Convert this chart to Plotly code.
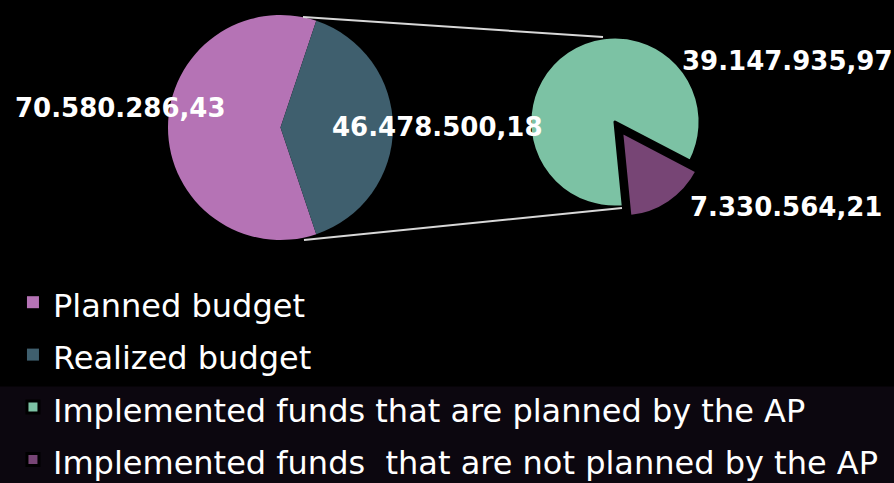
import plotly.graph_objects as go

# budget split (left pie) and breakdown of realized budget (right pie)
budget_labels = ['Planned budget', 'Realized budget']
budget_values = [70580286.43, 46478500.18]
budget_colors = ['#b573b5', '#3f5f6e']

funds_labels = ['Implemented funds that are planned by the AP',
                'Implemented funds  that are not planned by the AP']
funds_values = [39147935.97, 7330564.21]
funds_colors = ['#7cc2a4', '#774575']


def eu_fmt(v):
    """70580286.43 -> 70.580.286,43"""
    return f'{v:,.2f}'.replace(',', ' ').replace('.', ',').replace(' ', '.')


def legend_text(label):
    # smaller text inside a taller legend row
    return f'<span style="font-size:32px">{label}</span>'


fig = go.Figure()

share_realized = budget_values[1] / sum(budget_values) * 360
fig.add_trace(go.Pie(
    labels=[legend_text(l) for l in budget_labels],
    values=budget_values,
    marker=dict(colors=budget_colors, line=dict(width=0)),
    sort=False,
    direction='clockwise',
    rotation=90 + share_realized / 2,
    textinfo='none',
    hoverinfo='label+value',
    domain=dict(x=[0.1879, 0.4396], y=[0.503, 0.969]),
))

share_not_planned = funds_values[1] / sum(funds_values) * 360
fig.add_trace(go.Pie(
    labels=[legend_text(l) for l in funds_labels],
    values=funds_values,
    marker=dict(colors=funds_colors, line=dict(color='black', width=3)),
    sort=False,
    direction='clockwise',
    rotation=146 + share_not_planned / 2,
    pull=[0, 0.14],
    textinfo='none',
    hoverinfo='label+value',
    domain=dict(x=[0.5794, 0.7964], y=[0.5466, 0.9482]),
))

# value labels
label_font = dict(family='DejaVu Sans', size=26, color='white')
label_pos = [(0.135, 0.776), (0.489, 0.737), (0.881, 0.874), (0.879, 0.571)]
for v, (x, y) in zip(budget_values + funds_values, label_pos):
    fig.add_annotation(x=x, y=y, xref='paper', yref='paper', showarrow=False,
                       xanchor='center', yanchor='middle',
                       text=f'<b>{eu_fmt(v)}</b>', font=label_font)

# connector lines between the two pies
line_style = dict(color='#d8d8d8', width=2)
fig.add_shape(type='line', xref='paper', yref='paper',
              x0=303 / 894, y0=1 - 17 / 483, x1=603 / 894, y1=1 - 37 / 483,
              line=line_style)
fig.add_shape(type='line', xref='paper', yref='paper',
              x0=304 / 894, y0=1 - 240 / 483, x1=622 / 894, y1=1 - 208 / 483,
              line=line_style)

# faint purple tint in the lower band
fig.add_shape(type='rect', xref='paper', yref='paper', x0=0, x1=1, y0=0, y1=0.2,
              fillcolor='#0c070f', line=dict(width=0), layer='below')

fig.update_layout(
    width=894, height=483,
    margin=dict(l=0, r=0, t=0, b=0, autoexpand=False),
    paper_bgcolor='black',
    plot_bgcolor='black',
    font=dict(family='DejaVu Sans', color='white'),
    showlegend=True,
    legend=dict(x=0.0145, y=1 - 271 / 483, xanchor='left', yanchor='top',
                font=dict(size=38, color='white'),
                bgcolor='rgba(0,0,0,0)', traceorder='normal'),
)

fig.write_html('out.html', config={'displayModeBar': False},
               post_script="document.body.style.margin='0';")
